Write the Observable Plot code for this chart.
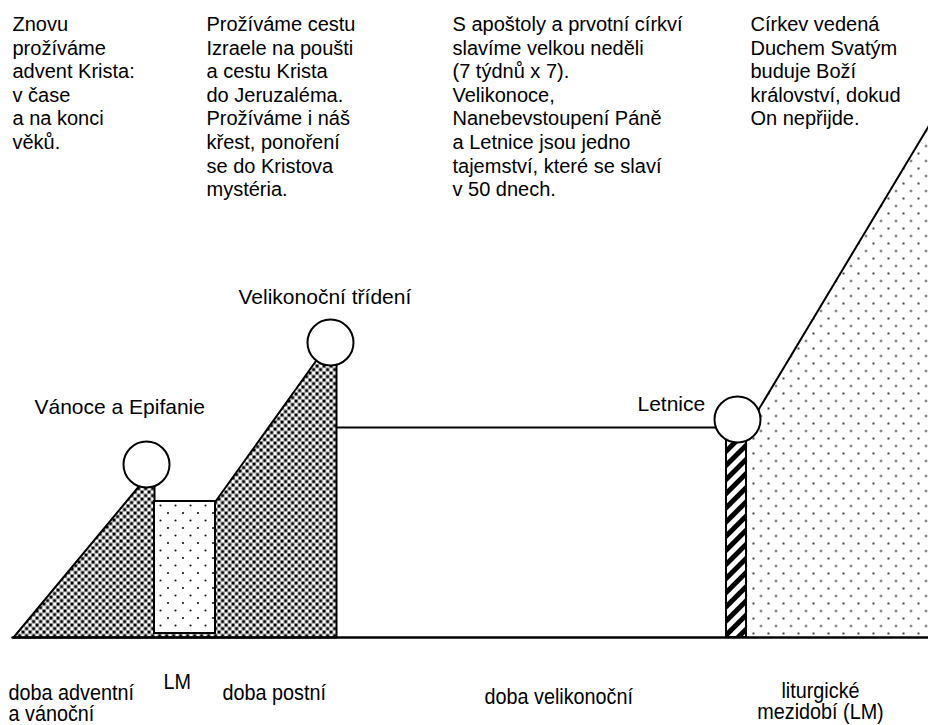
<!DOCTYPE html>
<html><head><meta charset="utf-8">
<script src="https://cdn.jsdelivr.net/npm/d3@7"></script>
<script src="https://cdn.jsdelivr.net/npm/@observablehq/plot@0.6"></script>
<style>html,body{margin:0;padding:0;background:#fff}svg{display:block}</style>
</head><body><div id="chart"></div>
<script>
// Diagram space: x runs along the liturgical year, y is measured downward (0 = top).
const topTexts = [
  "Znovu\nprožíváme\nadvent Krista:\nv čase\na na konci\nvěků.",
  "Prožíváme cestu\nIzraele na poušti\na cestu Krista\ndo Jeruzaléma.\nProžíváme i náš\nkřest, ponoření\nse do Kristova\nmystéria.",
  "S apoštoly a prvotní církví\nslavíme velkou neděli\n(7 týdnů x 7).\nVelikonoce,\nNanebevstoupení Páně\na Letnice jsou jedno\ntajemství, které se slaví\nv 50 dnech.",
  "Církev vedená\nDuchem Svatým\nbuduje Boží\nkrálovství, dokud\nOn nepřijde."
];
const topX = [12, 206, 452, 750];
const topBaseline = [28, 28, 28, 28];

const feastNames = ["Vánoce a Epifanie", "Velikonoční třídení", "Letnice"];
const feastLabelX = [34, 238, 637];
const feastLabelBaseline = [413, 303, 410];
const feastCircleX = [146, 330, 737];
const feastCircleY = [464, 342, 419];

const seasonNames = ["doba adventní\na vánoční", "LM", "doba postní", "doba velikonoční"];
const seasonLabelX = [8, 163, 222, 484];
const seasonLabelBaseline = [699, 688, 699, 703];
const ordinaryName = ["liturgické\nmezidobí (LM)"];
const ordinaryLabelX = [820];
const ordinaryLabelBaseline = [697];

// Advent/Christmas + Lent profile (dense pattern)
const denseX = [13, 140, 154, 154, 215, 318, 336, 336, 13];
const denseY = [637, 484, 480, 501, 501, 357, 350, 637, 637];
// Ordinary time after Christmas (LM)
const lmX1 = [154], lmX2 = [215], lmY1 = [501], lmY2 = [633];
// Pentecost bar
const pentX1 = [726], pentX2 = [746], pentY1 = [438], pentY2 = [637];
// Easter season level
const easterX = [336, 716], easterY = [427, 427];
// Ordinary time (rising)
const ordX = [746, 746, 757, 928, 928, 746];
const ordY = [637, 430, 411, 126, 637, 637];
const ordEdgeX = [757, 928], ordEdgeY = [411, 126];
// Base line
const baseX = [12, 928], baseY = [637, 637];

const zip = (xs, ys) => xs.map((x, i) => ({x, y: ys[i]}));
const FONT = "'Liberation Sans', Arial, sans-serif";
const topFs = 20, labelFs = 21, seasonFs = 22, NARROW_SCALE = 0.9;

const topData = topTexts.map((t, i) => ({t, x: topX[i], y: topBaseline[i] - 0.71 * topFs}));
const feastLabels = feastNames.map((t, i) => ({t, x: feastLabelX[i], y: feastLabelBaseline[i] - 0.71 * labelFs}));
const circles = feastCircleX.map((x, i) => ({x, y: feastCircleY[i]}));
const seasons = seasonNames.map((t, i) => ({t, x: seasonLabelX[i], y: seasonLabelBaseline[i] - 0.71 * seasonFs}));
const ordinary = ordinaryName.map((t, i) => ({t, x: ordinaryLabelX[i], y: ordinaryLabelBaseline[i] - 0.71 * seasonFs}));

const lineStyle = {stroke: "black", strokeWidth: 2, strokeLinejoin: "miter", curve: "linear"};
const seasonStyle = {x: "x", y: "y", text: "t", lineAnchor: "top", fontSize: seasonFs, lineHeight: 1.0, fontFamily: FONT, fill: "black"};

const svg = Plot.plot({
  width: 928, height: 725,
  margin: 0,
  x: {domain: [0, 928], range: [0, 928], axis: null},
  y: {domain: [0, 725], range: [0, 725], axis: null},
  style: {background: "white"},
  marks: [
    Plot.line(zip(denseX, denseY), {x: "x", y: "y", fill: "url(#dense)", ...lineStyle}),
    Plot.rect([0], {x1: () => lmX1[0], x2: () => lmX2[0], y1: () => lmY1[0], y2: () => lmY2[0], fill: "url(#sparse)", stroke: "black", strokeWidth: 2}),
    Plot.line(zip(ordX, ordY), {x: "x", y: "y", fill: "url(#sparse)", stroke: "none", curve: "linear"}),
    Plot.rect([0], {x1: () => pentX1[0], x2: () => pentX2[0], y1: () => pentY1[0], y2: () => pentY2[0], fill: "url(#hatch)", stroke: "black", strokeWidth: 2}),
    Plot.line(zip(easterX, easterY), {x: "x", y: "y", ...lineStyle}),
    Plot.line(zip(ordEdgeX, ordEdgeY), {x: "x", y: "y", ...lineStyle}),
    Plot.line(zip(baseX, baseY), {x: "x", y: "y", ...lineStyle, strokeWidth: 2.5}),
    Plot.dot(circles, {x: "x", y: "y", r: 23, fill: "white", stroke: "black", strokeWidth: 2}),
    Plot.text(topData, {x: "x", y: "y", text: "t", textAnchor: "start", lineAnchor: "top", fontSize: topFs, lineHeight: 1.18, fontFamily: FONT, fill: "black"}),
    Plot.text(feastLabels, {x: "x", y: "y", text: "t", textAnchor: "start", lineAnchor: "top", fontSize: labelFs, fontFamily: FONT, fill: "black"}),
    Plot.text(seasons, {...seasonStyle, textAnchor: "start"}),
    Plot.text(ordinary, {...seasonStyle, textAnchor: "middle"})
  ]
});

// condensed (narrow) lettering for the season names: the last two text marks
const textGroups = d3.select(svg).selectAll('g[aria-label="text"]').nodes();
textGroups.slice(-2).forEach(g => {
  d3.select(g).selectAll("text").each(function() {
    const t = this.getAttribute("transform");
    if (this.hasAttribute("x")) this.setAttribute("x", (+this.getAttribute("x")) / NARROW_SCALE);
    this.setAttribute("transform", (t ? t + " " : "") + `scale(${NARROW_SCALE},1)`);
  });
});

const defs = d3.select(svg).insert("defs", ":first-child");
const dense = defs.append("pattern").attr("id", "dense").attr("patternUnits", "userSpaceOnUse").attr("width", 7).attr("height", 7);
dense.append("rect").attr("width", 7).attr("height", 7).attr("fill", "white");
dense.append("rect").attr("x", 0).attr("y", 0).attr("width", 3.2).attr("height", 3.2).attr("fill", "black");
dense.append("rect").attr("x", 3.5).attr("y", 3.5).attr("width", 3.2).attr("height", 3.2).attr("fill", "black");
const sparse = defs.append("pattern").attr("id", "sparse").attr("patternUnits", "userSpaceOnUse").attr("width", 15).attr("height", 15);
sparse.append("rect").attr("width", 15).attr("height", 15).attr("fill", "white");
sparse.append("circle").attr("cx", 3).attr("cy", 3).attr("r", 1.05).attr("fill", "#111");
sparse.append("circle").attr("cx", 10.5).attr("cy", 10.5).attr("r", 1.05).attr("fill", "#111");
const hatch = defs.append("pattern").attr("id", "hatch").attr("patternUnits", "userSpaceOnUse").attr("width", 10).attr("height", 10).attr("patternTransform", "rotate(45)");
hatch.append("rect").attr("width", 10).attr("height", 10).attr("fill", "white");
hatch.append("rect").attr("width", 5).attr("height", 10).attr("fill", "black");

document.getElementById("chart").append(svg);
</script>
</body></html>
